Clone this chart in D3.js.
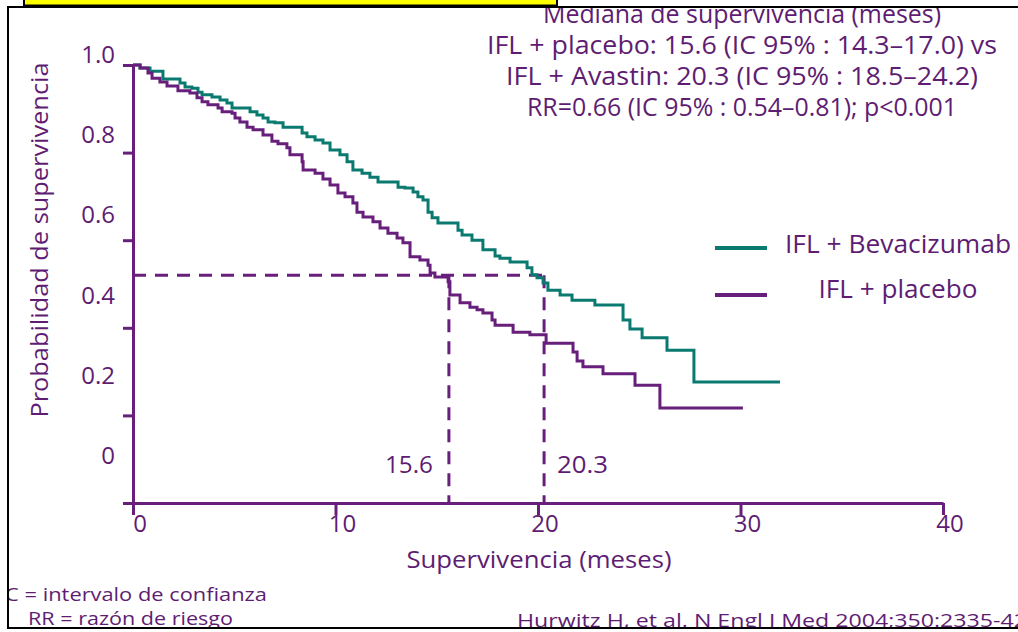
<!DOCTYPE html>
<html>
<head>
<meta charset="utf-8">
<script src="https://cdn.jsdelivr.net/npm/d3@7"></script>
<style>
  body { margin: 0; background: #fff; }
  text { font-family: "Comic Sans MS", "Open Sans", sans-serif; fill: #5e1d72; }
</style>
</head>
<body>
<svg id="chart" width="1018" height="632"></svg>
<script>
// Kaplan-Meier steps: time (months) where the curve drops, survival after the drop
const bevaTimes = [0, 0.35, 0.84, 1.48, 2.32, 2.57, 2.91, 3.21, 3.41, 3.90, 4.30, 4.64, 4.89, 5.78, 6.12, 6.42,
  6.67, 7.01, 7.41, 8.35, 8.59, 8.99, 9.38, 9.73, 10.22, 10.57, 10.86, 11.31, 11.70, 12.10, 13.09, 13.43,
  13.83, 14.07, 14.32, 14.57, 14.77, 15.06, 16.05, 16.25, 16.74, 17.28, 17.88, 18.12, 18.62, 19.46, 19.70,
  19.95, 20.25, 20.49, 21.09, 21.68, 22.81, 24.20, 24.54, 25.14, 26.37, 27.70, 31.95];
const bevaSurv = [1.0, 0.993, 0.986, 0.968, 0.959, 0.950, 0.947, 0.938, 0.932, 0.927, 0.920, 0.913, 0.902, 0.893,
  0.886, 0.879, 0.870, 0.868, 0.858, 0.845, 0.836, 0.829, 0.822, 0.806, 0.795, 0.779, 0.760, 0.753, 0.744,
  0.733, 0.721, 0.719, 0.710, 0.699, 0.692, 0.664, 0.651, 0.639, 0.623, 0.612, 0.600, 0.578, 0.564, 0.559,
  0.550, 0.537, 0.521, 0.514, 0.502, 0.486, 0.475, 0.463, 0.452, 0.418, 0.397, 0.377, 0.349, 0.276, 0.276];

const placTimes = [0, 0.35, 0.74, 0.94, 1.33, 1.68, 2.22, 2.81, 3.16, 3.41, 3.70, 4.20, 4.40, 4.89, 5.04, 5.28,
  5.63, 5.93, 6.42, 6.86, 7.16, 7.60, 7.75, 8.35, 8.40, 8.99, 9.38, 9.73, 10.12, 10.47, 10.86, 11.06, 11.36,
  11.85, 12.20, 12.59, 13.04, 13.33, 13.68, 14.17, 14.57, 14.67, 14.91, 15.56, 15.65, 16.15, 16.64, 16.99,
  17.28, 17.73, 17.88, 18.77, 19.60, 20.40, 21.73, 21.93, 22.22, 23.21, 24.79, 26.02, 30.12];
const placSurv = [1.0, 0.993, 0.982, 0.970, 0.961, 0.952, 0.941, 0.936, 0.925, 0.916, 0.909, 0.902, 0.893, 0.890,
  0.879, 0.870, 0.858, 0.852, 0.840, 0.826, 0.820, 0.811, 0.795, 0.779, 0.760, 0.753, 0.740, 0.726, 0.708,
  0.699, 0.685, 0.664, 0.653, 0.642, 0.628, 0.616, 0.605, 0.594, 0.562, 0.555, 0.543, 0.525, 0.516, 0.505,
  0.475, 0.457, 0.447, 0.441, 0.434, 0.418, 0.406, 0.390, 0.384, 0.365, 0.345, 0.324, 0.311, 0.295, 0.269,
  0.217, 0.217];

const seriesNames = ["IFL + Bevacizumab", "IFL + placebo"];
const xTicks = [0, 10, 20, 30, 40];
const yTicks = [0, 0.2, 0.4, 0.6, 0.8, 1.0];
const yTickLabels = ["0", "0.2", "0.4", "0.6", "0.8", "1.0"];
const medians = [15.6, 20.3];
const medianLevel = 0.52;

const infoLines = [
  "Mediana de supervivencia (meses)",
  "IFL + placebo: 15.6 (IC 95% : 14.3–17.0) vs",
  "IFL + Avastin: 20.3 (IC 95% : 18.5–24.2)",
  "RR=0.66 (IC 95% : 0.54–0.81); p<0.001"
];

const purple = "#681f7c";
const teal = "#0a7a70";

const svg = d3.select("#chart");

svg.append("defs").append("clipPath").attr("id", "frameClip")
  .append("rect").attr("x", 9).attr("y", 8).attr("width", 1010).attr("height", 619);

// slide frame and the yellow title box cut at the top
svg.append("rect")
  .attr("x", 8).attr("y", 7).attr("width", 1030).attr("height", 621)
  .attr("fill", "none").attr("stroke", "#000").attr("stroke-width", 2);
svg.append("rect")
  .attr("x", 24).attr("y", -12).attr("width", 533).attr("height", 17.5)
  .attr("fill", "#ffff00").attr("stroke", "#000").attr("stroke-width", 2);

const x = d3.scaleLinear().domain([0, 40]).range([133, 943]);
const y = d3.scaleLinear().domain([0, 1]).range([503, 65]);
// tick labels on the slide sit on their own, tighter spacing
const yLabelPos = d3.scaleLinear().domain([0, 1]).range([464, 63]);

function addText(g, px, py, str, size, anchor, len) {
  const t = g.append("text")
    .attr("x", px).attr("y", py)
    .attr("font-size", size)
    .attr("text-anchor", anchor || "start")
    .text(str);
  if (len) t.attr("textLength", len).attr("lengthAdjust", "spacingAndGlyphs");
  return t;
}

// Axes
const yAxis = d3.axisLeft(y).tickValues(yTicks).tickSize(10).tickSizeOuter(0).tickFormat("");
svg.append("g").attr("class", "y-axis").attr("transform", `translate(${x(0)},0)`).call(yAxis);

const xAxis = d3.axisBottom(x).tickValues(xTicks).tickSize(12).tickSizeOuter(0).tickFormat("");
svg.append("g").attr("class", "x-axis").attr("transform", `translate(0,${y(0)})`).call(xAxis);

svg.selectAll(".y-axis path, .y-axis line, .x-axis path, .x-axis line")
  .attr("stroke", purple).attr("stroke-width", 3);

svg.append("g").selectAll("text")
  .data(yTicks)
  .enter().append("text")
  .attr("x", 115)
  .attr("y", d => yLabelPos(d))
  .attr("text-anchor", "end")
  .attr("font-size", 24)
  .text((d, i) => yTickLabels[i]);

svg.append("g").selectAll("text")
  .data(xTicks)
  .enter().append("text")
  .attr("x", d => x(d) + 7)
  .attr("y", 532)
  .attr("text-anchor", "middle")
  .attr("font-size", 24)
  .text(d => d);

// Axis titles
addText(svg, 0, 0, "Probabilidad de supervivencia", 24, "middle", 355)
  .attr("transform", "translate(48,240) rotate(-90)");
addText(svg, 539, 568, "Supervivencia (meses)", 24, "middle", 265);

// Median reference lines
const dash = "13,9";
svg.append("line")
  .attr("x1", x(0)).attr("x2", x(medians[1]))
  .attr("y1", y(medianLevel)).attr("y2", y(medianLevel))
  .attr("stroke", purple).attr("stroke-width", 3).attr("stroke-dasharray", dash);
svg.append("g").selectAll("line")
  .data(medians)
  .enter().append("line")
  .attr("x1", d => x(d)).attr("x2", d => x(d))
  .attr("y1", y(medianLevel)).attr("y2", y(0))
  .attr("stroke", purple).attr("stroke-width", 3).attr("stroke-dasharray", dash);

addText(svg, 433, 473, "15.6", 24, "end", 48);
addText(svg, 557, 473, "20.3", 24, "start", 51);

// Survival curves
const line = d3.line()
  .x(d => x(d[0]))
  .y(d => y(d[1]))
  .curve(d3.curveStepAfter);

const curves = [
  { name: seriesNames[0], color: teal, pts: d3.zip(bevaTimes, bevaSurv) },
  { name: seriesNames[1], color: purple, pts: d3.zip(placTimes, placSurv) }
];

svg.append("g").selectAll("path")
  .data(curves)
  .enter().append("path")
  .attr("d", d => line(d.pts))
  .attr("fill", "none")
  .attr("stroke", d => d.color)
  .attr("stroke-width", 3);

// Legend
const legendY = [248, 295];
const legendTextY = [253, 298];
const legendLen = [226, 159];
const legend = svg.append("g");
legend.selectAll("line")
  .data(curves)
  .enter().append("line")
  .attr("x1", 715).attr("x2", 767)
  .attr("y1", (d, i) => legendY[i]).attr("y2", (d, i) => legendY[i])
  .attr("stroke", d => d.color).attr("stroke-width", 4);
curves.forEach((c, i) => addText(legend, 898, legendTextY[i], c.name, 26, "middle", legendLen[i]));

// Median summary text top right
const infoY = [23, 54, 85, 116];
const infoLen = [398, 510, 472, 430];
const info = svg.append("g").attr("clip-path", "url(#frameClip)");
infoLines.forEach((s, i) => addText(info, 742, infoY[i], s, 25, "middle", infoLen[i]));

// Footnotes
const notes = svg.append("g").attr("clip-path", "url(#frameClip)");
addText(notes, -1, 601, "IC = intervalo de confianza", 18, "start", 268);
addText(notes, 28, 625, "RR = razón de riesgo", 18, "start", 205);
addText(notes, 517, 627, "Hurwitz H, et al. N Engl J Med 2004;350:2335-42", 19, "start", 510);
</script>
</body>
</html>
